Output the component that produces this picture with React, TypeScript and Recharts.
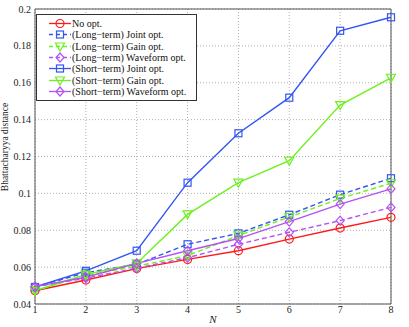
import React from 'react';
import { LineChart, Line, XAxis, YAxis, CartesianGrid, ReferenceLine, Legend } from 'recharts';

const N = [1, 2, 3, 4, 5, 6, 7, 8];
const noOpt = [0.0472, 0.053, 0.0592, 0.0642, 0.0689, 0.0752, 0.0812, 0.087];
const ltJoint = [0.0492, 0.057, 0.0615, 0.0724, 0.0783, 0.0884, 0.0993, 0.1082];
const ltGain = [0.0472, 0.0555, 0.0605, 0.0662, 0.0771, 0.0872, 0.0972, 0.1055];
const ltWave = [0.0494, 0.054, 0.0595, 0.0651, 0.0724, 0.0789, 0.0852, 0.0924];
const stJoint = [0.0492, 0.058, 0.0689, 0.1058, 0.1326, 0.1519, 0.1882, 0.1955];
const stGain = [0.0472, 0.056, 0.062, 0.0886, 0.1058, 0.1177, 0.1479, 0.1627];
const stWave = [0.0494, 0.0545, 0.062, 0.0689, 0.0755, 0.0847, 0.0942, 0.1024];
const yTicks = [0.04, 0.06, 0.08, 0.1, 0.12, 0.14, 0.16, 0.18, 0.2];

const RED = '#ff1a1a';
const BLUE = '#3355f2';
const GREEN = '#6ef01e';
const PURPLE = '#b451f5';

type Shape = 'circle' | 'square' | 'triangle' | 'diamond';

const series: { key: string; name: string; color: string; dashed: boolean; shape: Shape }[] = [
  { key: 'noOpt', name: 'No opt.', color: RED, dashed: false, shape: 'circle' },
  { key: 'ltJoint', name: '(Long\u2212term) Joint opt.', color: BLUE, dashed: true, shape: 'square' },
  { key: 'ltGain', name: '(Long\u2212term) Gain opt.', color: GREEN, dashed: true, shape: 'triangle' },
  { key: 'ltWave', name: '(Long\u2212term) Waveform opt.', color: PURPLE, dashed: true, shape: 'diamond' },
  { key: 'stJoint', name: '(Short\u2212term) Joint opt.', color: BLUE, dashed: false, shape: 'square' },
  { key: 'stGain', name: '(Short\u2212term) Gain opt.', color: GREEN, dashed: false, shape: 'triangle' },
  { key: 'stWave', name: '(Short\u2212term) Waveform opt.', color: PURPLE, dashed: false, shape: 'diamond' },
];

const data = N.map((n, i) => ({
  n,
  noOpt: noOpt[i],
  ltJoint: ltJoint[i],
  ltGain: ltGain[i],
  ltWave: ltWave[i],
  stJoint: stJoint[i],
  stGain: stGain[i],
  stWave: stWave[i],
}));

function Marker({ cx, cy, shape, color }: { cx: number; cy: number; shape: Shape; color: string }) {
  const sw = 1.2;
  if (shape === 'circle') return <circle cx={cx} cy={cy} r={4} fill="none" stroke={color} strokeWidth={sw} />;
  if (shape === 'square') return <rect x={cx - 3.5} y={cy - 3.5} width={7} height={7} fill="none" stroke={color} strokeWidth={sw} />;
  if (shape === 'triangle')
    return <polygon points={`${cx - 4.5},${cy - 3.5} ${cx + 4.5},${cy - 3.5} ${cx},${cy + 4.5}`} fill="none" stroke={color} strokeWidth={sw} />;
  return <polygon points={`${cx},${cy - 4.5} ${cx + 4},${cy} ${cx},${cy + 4.5} ${cx - 4},${cy}`} fill="none" stroke={color} strokeWidth={sw} />;
}

const FONT = '"Liberation Serif", "DejaVu Serif", serif';

function LegendBox() {
  return (
    <div
      style={{
        border: '1px solid #333',
        background: '#fff',
        width: 159,
        padding: '3px 0 3px 0',
        fontFamily: FONT,
        fontSize: 10,
        color: '#111',
      }}
    >
      {series.map((s) => (
        <div key={s.key} style={{ display: 'flex', alignItems: 'center', height: 11.3 }}>
          <svg width={35} height={11} style={{ flex: 'none' }}>
            <line x1={12} x2={34} y1={5.5} y2={5.5} stroke={s.color} strokeWidth={1.3} strokeDasharray={s.dashed ? '4 3' : undefined} />
            <Marker cx={23} cy={5.5} shape={s.shape} color={s.color} />
          </svg>
          <span style={{ whiteSpace: 'nowrap' }}>{s.name}</span>
        </div>
      ))}
    </div>
  );
}

export default function App() {
  return (
    <div style={{ position: 'absolute', left: 0, top: 0, background: '#fff' }}>
      <LineChart width={409} height={327} data={data} margin={{ top: 9, right: 18, bottom: 3, left: 5 }}>
        <CartesianGrid stroke="#b0b0b0" strokeDasharray="1 2" />
        <XAxis
          dataKey="n"
          type="number"
          domain={[1, 8]}
          ticks={N}
          height={20}
          tickLine={false}
          tickSize={0}
          axisLine={{ stroke: '#555' }}
          tick={{ fontFamily: FONT, fontSize: 10, fill: '#222' }}
          tickMargin={2}
          label={{
            content: () => (
              <text x={213} y={323} textAnchor="middle" fontFamily={FONT} fontSize={11} fontStyle="italic" fill="#222">
                N
              </text>
            ),
          }}
        />
        <YAxis
          type="number"
          domain={[0.04, 0.2]}
          ticks={yTicks}
          width={30}
          tickLine={false}
          tickSize={0}
          axisLine={{ stroke: '#555' }}
          tick={{ fontFamily: FONT, fontSize: 10, fill: '#222' }}
          tickMargin={4}
          tickFormatter={(v: number) => String(Number(v.toFixed(2)))}
          label={{
            content: () => (
              <text x={8} y={147} transform="rotate(-90 8 147)" textAnchor="middle" fontFamily={FONT} fontSize={9.5} fill="#222">
                Bhattacharyya distance
              </text>
            ),
          }}
        />
        <ReferenceLine y={0.2} stroke="#555" />
        <ReferenceLine x={8} stroke="#555" />
        {series.map((s) => (
          <Line
            key={s.key}
            dataKey={s.key}
            name={s.name}
            stroke={s.color}
            strokeWidth={1.4}
            strokeDasharray={s.dashed ? '5 3' : undefined}
            isAnimationActive={false}
            dot={(p: any) => <Marker key={`${s.key}-${p.index}`} cx={p.cx} cy={p.cy} shape={s.shape} color={s.color} />}
            activeDot={false}
          />
        ))}
        <Legend
          layout="vertical"
          align="center"
          verticalAlign="middle"
          content={() => <LegendBox />}
          wrapperStyle={{ position: 'absolute', left: 36, top: 14, width: 'auto', height: 'auto' }}
        />
      </LineChart>
    </div>
  );
}
